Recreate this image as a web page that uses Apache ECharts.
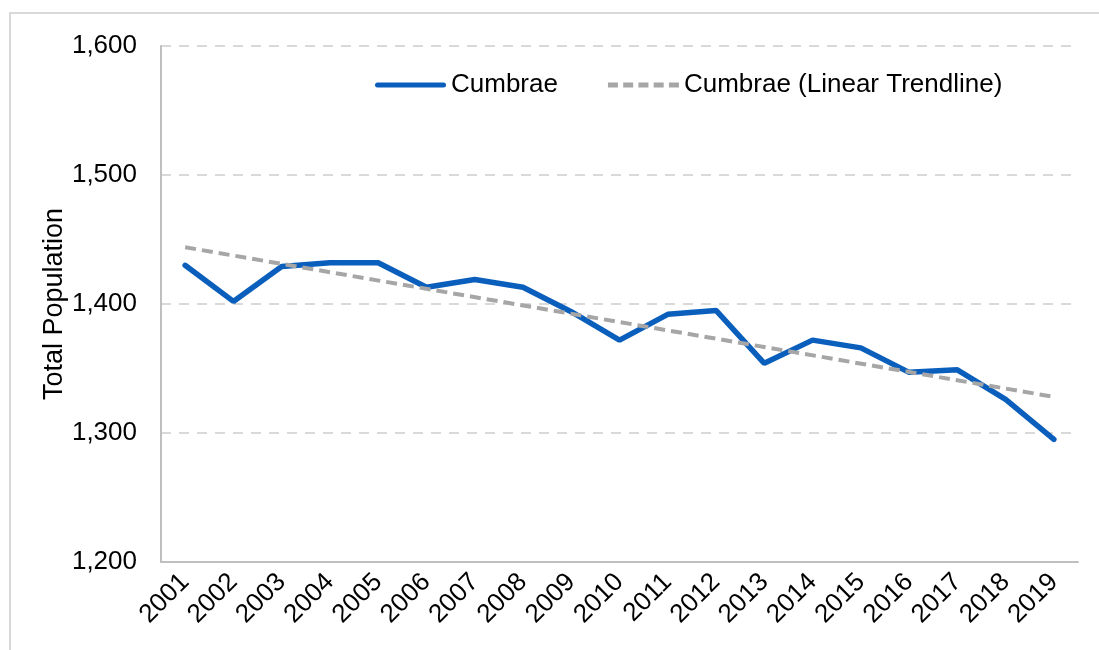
<!DOCTYPE html>
<html>
<head>
<meta charset="utf-8">
<script src="https://cdn.jsdelivr.net/npm/echarts@6/dist/echarts.min.js"></script>
<style>
  html, body { margin: 0; padding: 0; background: #fff; }
  #chart { width: 1099px; height: 650px; }
</style>
</head>
<body>
<div id="chart"></div>
<script>
var years = ['2001','2002','2003','2004','2005','2006','2007','2008','2009','2010',
             '2011','2012','2013','2014','2015','2016','2017','2018','2019'];
var population = [1430, 1402, 1429, 1432, 1432, 1413, 1419, 1413, 1394, 1372,
                  1392, 1395, 1354, 1372, 1366, 1347, 1349, 1326, 1295];
// trendline end points
var trendYears = ['2001', '2019'];
var trendValues = [1444, 1328];
var yTicks = [1200, 1300, 1400, 1500, 1600];

var font = 'Liberation Sans, Arial, sans-serif';

// legend icons: a solid bar and a dashed bar, both 71 x 5
var solidIcon = 'path://M2.5,0H68.5A2.5,2.5,0,0,1,68.5,5H2.5A2.5,2.5,0,0,1,2.5,0Z';
var dashIcon = 'path://M0,0H10V5H0Z M15.25,0H25.25V5H15.25Z M30.5,0H40.5V5H30.5Z M45.75,0H55.75V5H45.75Z M61,0H71V5H61Z';

var chart = echarts.init(document.getElementById('chart'));

var option = {
    animation: false,
    textStyle: { fontFamily: font },
    graphic: [
        {
            type: 'rect',
            shape: { x: 10, y: 13, width: 1200, height: 800 },
            style: { fill: 'none', stroke: '#d9d9d9', lineWidth: 2 },
            silent: true
        }
    ],
    legend: {
        left: 375,
        top: 72,
        padding: 0,
        itemWidth: 71,
        itemHeight: 5,
        itemGap: 50,
        textStyle: { fontSize: 26, color: '#000', fontFamily: font },
        data: [
            { name: 'Cumbrae', icon: solidIcon },
            { name: 'Cumbrae (Linear Trendline)', icon: dashIcon }
        ]
    },
    grid: {
        left: 161,
        right: 21,
        top: 46,
        bottom: 88
    },
    xAxis: {
        type: 'category',
        data: years,
        boundaryGap: true,
        axisLine: { lineStyle: { color: '#bfbfbf', width: 2 } },
        axisTick: { show: false },
        axisLabel: {
            rotate: 45,
            fontSize: 26,
            color: '#000',
            margin: 16,
            fontFamily: font
        }
    },
    yAxis: {
        type: 'value',
        min: yTicks[0],
        max: yTicks[yTicks.length - 1],
        interval: 100,
        name: 'Total Population',
        nameLocation: 'middle',
        nameGap: 93,
        nameMoveOverlap: false,
        nameTextStyle: { fontSize: 27, color: '#000', fontFamily: font },
        axisLine: { show: true, lineStyle: { color: '#bfbfbf', width: 2 } },
        axisTick: { show: false },
        axisLabel: {
            fontSize: 26,
            color: '#000',
            margin: 24,
            fontFamily: font,
            formatter: function (v) { return v.toLocaleString('en-US'); }
        },
        splitLine: {
            lineStyle: { color: '#d9d9d9', width: 2, type: [10, 8] }
        }
    },
    series: [
        {
            name: 'Cumbrae',
            type: 'line',
            data: population,
            symbol: 'none',
            lineStyle: { color: '#0a5fbd', width: 5.5, cap: 'round' },
            itemStyle: { color: '#0a5fbd' },
            z: 3
        },
        {
            name: 'Cumbrae (Linear Trendline)',
            type: 'line',
            data: [[trendYears[0], trendValues[0]], [trendYears[1], trendValues[1]]],
            symbol: 'none',
            lineStyle: { color: '#a6a6a6', width: 4, type: [11, 6] },
            itemStyle: { color: '#a6a6a6' },
            z: 4
        }
    ]
};

chart.setOption(option);
</script>
</body>
</html>
